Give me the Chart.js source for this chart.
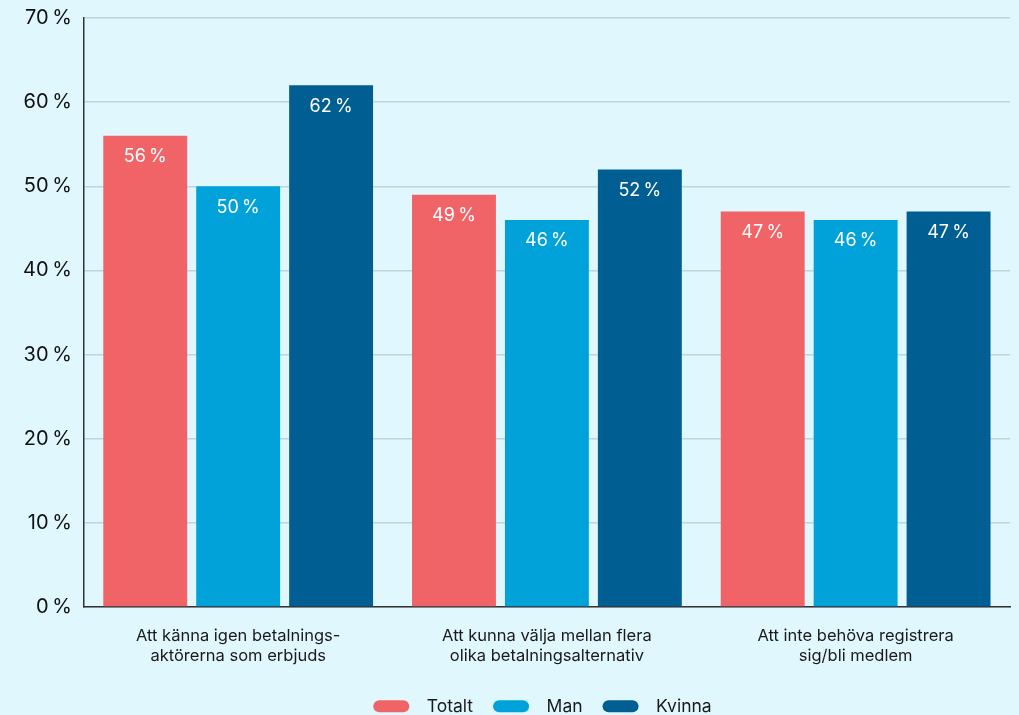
<!DOCTYPE html>
<html>
<head>
<meta charset="utf-8">
<script src="https://cdn.jsdelivr.net/npm/chart.js@4/dist/chart.umd.min.js"></script>
<style>
  html, body { margin: 0; padding: 0; background: #DFF7FD; overflow: hidden; }
  #wrap { width: 1019px; height: 731px; position: relative; margin-top: -6px; }
</style>
</head>
<body>
<div id="wrap"><canvas id="myChart"></canvas></div>
<script>
const categories = [
    ["Att känna igen betalnings-", "aktörerna som erbjuds"],
    ["Att kunna välja mellan flera", "olika betalningsalternativ"],
    ["Att inte behöva registrera", "sig/bli medlem"],
];
const totalt = [56, 49, 47];
const man = [50, 46, 46];
const kvinna = [62, 52, 47];
const yTicks = [0, 10, 20, 30, 40, 50, 60, 70];

const font = "Inter, 'Noto Sans', sans-serif";

// white value labels inside the top of each bar
const barLabels = {
    id: "barLabels",
    afterDatasetsDraw(chart) {
        const c = chart.ctx;
        c.save();
        c.fillStyle = "#ffffff";
        c.font = "18px " + font;
        c.textAlign = "center";
        c.textBaseline = "middle";
        chart.data.datasets.forEach((ds, i) => {
            chart.getDatasetMeta(i).data.forEach((bar, j) => {
                c.fillText(ds.data[j] + "\u202F%", bar.x, bar.y + 21);
            });
        });
        c.restore();
    }
};

// legend sits a bit right of the canvas centre, under the plot area
const legendShift = {
    id: "legendShift",
    afterLayout(chart) {
        if (chart.legend) {
            chart.legend.left += 32;
            chart.legend.right += 32;
        }
    }
};

const ctx = document.getElementById("myChart").getContext("2d");

const config = {
    type: "bar",
    data: {
        labels: categories,
        datasets: [
            { label: "Totalt", data: totalt, backgroundColor: "#F06467" },
            { label: "Man", data: man, backgroundColor: "#00A2D9" },
            { label: "Kvinna", data: kvinna, backgroundColor: "#005E92" },
        ],
    },
    options: {
        responsive: true,
        maintainAspectRatio: false,
        animation: false,
        categoryPercentage: 0.903,
        barPercentage: 0.903,
        layout: { padding: { top: 0, right: 9, left: 11 } },
        plugins: {
            legend: {
                position: "bottom",
                labels: {
                    boxWidth: 36,
                    boxHeight: 12,
                    useBorderRadius: true,
                    borderRadius: 6,
                    padding: 20,
                    color: "#1a1a1a",
                    font: { family: font, size: 17.5 },
                    generateLabels: (chart) =>
                        Chart.defaults.plugins.legend.labels.generateLabels(chart).map(l => {
                            l.text = "\u2002" + l.text;
                            return l;
                        }),
                },
            },
            tooltip: { enabled: false },
        },
        scales: {
            y: {
                min: 0,
                max: 70,
                afterBuildTicks: (axis) => { axis.ticks = yTicks.map(v => ({ value: v })); },
                border: { color: "#333", width: 1.5 },
                grid: { color: "#BCD6E0", lineWidth: 1.5, drawTicks: false },
                ticks: {
                    padding: 12,
                    color: "#111",
                    font: { family: font, size: 20 },
                    callback: (v) => v + "\u202F%",
                },
            },
            x: {
                afterFit: (scale) => { scale.height += 1; },
                border: { color: "#333", width: 1.5 },
                grid: { display: false },
                ticks: {
                    padding: 11,
                    color: "#1a1a1a",
                    font: { family: font, size: 16.5, lineHeight: 1.2 },
                },
            },
        },
    },
    plugins: [barLabels, legendShift],
};

const myChart = new Chart(ctx, config);
</script>
</body>
</html>
